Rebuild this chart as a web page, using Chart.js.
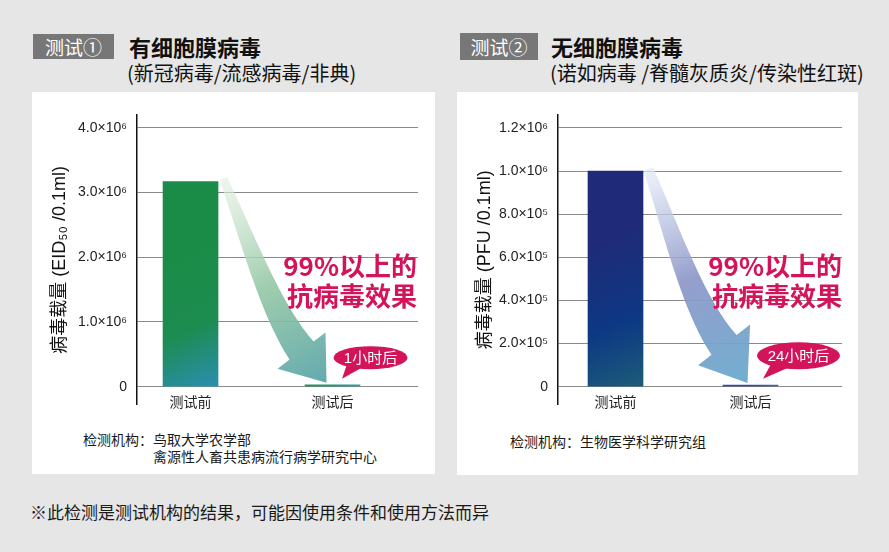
<!DOCTYPE html>
<html>
<head>
<meta charset="utf-8">
<script src="https://cdn.jsdelivr.net/npm/chart.js@4/dist/chart.umd.min.js"></script>
<style>
body { margin: 0; width: 889px; height: 552px; background: #e6e6e6; position: relative; overflow: hidden;
  font-family: 'Noto Sans CJK SC', sans-serif; color: #111; }
.abs { position: absolute; white-space: nowrap; }
.panel { position: absolute; background: #fff; }
.tag { position: absolute; background: #777; color: #fff; font-size: 19px; text-align: center; }
.title { font-size: 22px; font-weight: bold; line-height: 26px; }
.sub { font-size: 20px; line-height: 24px; }
.org { font-size: 14px; line-height: 17px; color: #1a1a1a; }
.big { font-size: 26px; font-weight: bold; line-height: 30px; color: #d4145a; text-align: right; }
canvas { position: absolute; }
</style>
</head>
<body>
<div class="panel" style="left:32px;top:92px;width:403px;height:382px"></div>
<div class="panel" style="left:457px;top:92px;width:401px;height:383px"></div>

<div class="tag" style="left:33px;top:34px;width:81px;height:25px;line-height:25px">测试①</div>
<div class="abs title" style="left:129px;top:33px">有细胞膜病毒</div>
<div class="abs sub" style="left:127px;top:61px">(新冠病毒/流感病毒/非典)</div>

<div class="tag" style="left:460px;top:33px;width:78px;height:27px;line-height:27px">测试②</div>
<div class="abs title" style="left:551px;top:33px">无细胞膜病毒</div>
<div class="abs sub" style="left:550px;top:61px">(诺如病毒 /脊髓灰质炎/传染性红斑)</div>

<canvas id="left" width="403" height="330" style="left:32px;top:93px"></canvas>
<canvas id="right" width="401" height="330" style="left:457px;top:93px"></canvas>

<div class="abs big" style="right:472px;top:250px">99%以上的<br>抗病毒效果</div>
<div class="abs big" style="right:47px;top:250px">99%以上的<br>抗病毒效果</div>

<div class="abs org" style="left:83px;top:431px">检测机构：鸟取大学农学部</div>
<div class="abs org" style="left:153px;top:448px">禽源性人畜共患病流行病学研究中心</div>
<div class="abs org" style="left:510px;top:433px">检测机构：生物医学科学研究组</div>

<div class="abs" style="left:30px;top:500px;font-size:17px;line-height:24px;color:#1a1a1a">※此检测是测试机构的结果，可能因使用条件和使用方法而异</div>

<script>
// values
const categories = ['测试前', '测试后']

const envelopedValues = [3170000, 30000]
const envelopedTicks = [0, 1000000, 2000000, 3000000, 4000000]
const envelopedTickLabels = ['0', '1.0×10⁶', '2.0×10⁶', '3.0×10⁶', '4.0×10⁶']

const nakedValues = [1000000, 8000]
const nakedTicks = [0, 200000, 400000, 600000, 800000, 1000000, 1200000]
const nakedTickLabels = ['0', '2.0×10⁵', '4.0×10⁵', '6.0×10⁵', '8.0×10⁵', '1.0×10⁶', '1.2×10⁶']

const latin = "'Liberation Sans', 'DejaVu Sans', 'Noto Sans CJK SC'"
const cjk = "'Noto Sans CJK SC'"

function cubic(P, t) {
    const u = 1 - t
    const a = u * u * u, b = 3 * u * u * t, c = 3 * u * t * t, d = t * t * t
    return [a * P[0][0] + b * P[1][0] + c * P[2][0] + d * P[3][0],
            a * P[0][1] + b * P[1][1] + c * P[2][1] + d * P[3][1]]
}
function cubicD(P, t) {
    const u = 1 - t
    return [3 * u * u * (P[1][0] - P[0][0]) + 6 * u * t * (P[2][0] - P[1][0]) + 3 * t * t * (P[3][0] - P[2][0]),
            3 * u * u * (P[1][1] - P[0][1]) + 6 * u * t * (P[2][1] - P[1][1]) + 3 * t * t * (P[3][1] - P[2][1])]
}

// big curved arrow from the first bar down to the second one, plus the speech bubble
const arrowPlugin = {
    id: 'dropArrow',
    afterDatasetsDraw(chart, args, o) {
        const xs = chart.scales.x, ys = chart.scales.y, c = chart.ctx
        const pts = chart.data.datasets[0].data
        const sx = xs.getPixelForValue(0) + 27.5, sy = ys.getPixelForValue(pts[0].y)
        const tx = xs.getPixelForValue(1) + o.tipDx, ty = ys.getPixelForValue(pts[1].y) - 2
        const dx = tx - sx, dy = ty - sy
        const P = o.path.map(([fx, fy]) => [sx + fx * dx, sy + fy * dy])

        const left = [], right = []
        const N = 40
        for (let i = 0; i <= N; i++) {
            const t = i / N
            const p = cubic(P, t), d = cubicD(P, t)
            const len = Math.hypot(d[0], d[1])
            const nx = -d[1] / len, ny = d[0] / len
            const w = o.w0 + (o.w1 - o.w0) * t
            left.push([p[0] + nx * w, p[1] + ny * w])
            right.push([p[0] - nx * w, p[1] - ny * w])
        }
        const d = cubicD(P, 1), len = Math.hypot(d[0], d[1])
        const nx = -d[1] / len, ny = d[0] / len
        const end = P[3]

        c.save()
        const g = c.createLinearGradient(P[0][0], P[0][1], tx, ty)
        o.colors.forEach((col, i) => g.addColorStop(i / (o.colors.length - 1), col))
        c.fillStyle = g
        c.beginPath()
        left.forEach(([x, y], i) => i ? c.lineTo(x, y) : c.moveTo(x, y))
        c.lineTo(end[0] + nx * o.head, end[1] + ny * o.head)
        c.lineTo(tx, ty)
        c.lineTo(end[0] - nx * o.head, end[1] - ny * o.head)
        right.reverse().forEach(([x, y]) => c.lineTo(x, y))
        c.closePath()
        c.fill()

        // bubble
        const b = o.bubble
        const bx = xs.getPixelForValue(1) + b.dx, by = ys.getPixelForValue(0) + b.dy
        c.fillStyle = '#d4145a'
        c.beginPath()
        c.ellipse(bx, by, b.rx, b.ry, 0, 0, Math.PI * 2)
        c.fill()
        c.beginPath()
        c.moveTo(bx - b.rx * 0.62, by + b.ry * 0.4)
        c.lineTo(xs.getPixelForValue(1) + b.tailDx, ys.getPixelForValue(0) - 8)
        c.lineTo(bx - b.rx * 0.25, by + b.ry * 0.9)
        c.closePath()
        c.fill()
        c.fillStyle = '#fff'
        c.font = '15px ' + latin
        c.textAlign = 'center'
        c.textBaseline = 'middle'
        c.fillText(b.text, bx, by + 1)
        c.restore()
    }
}

function barFill(ctx, fills) {
    const stops = fills[ctx.dataIndex]
    const chart = ctx.chart
    if (!chart.chartArea || !chart.scales.y) return stops[0]
    const xs = chart.scales.x, ys = chart.scales.y
    const cx = xs.getPixelForValue(ctx.dataIndex)
    const top = ys.getPixelForValue(ctx.raw.y), base = ys.getPixelForValue(0)
    const g = chart.ctx.createLinearGradient(cx - 25, top + (base - top) * 0.35, cx + 30, base)
    g.addColorStop(0, stops[0])
    g.addColorStop(0.55, stops[1])
    g.addColorStop(1, stops[2])
    return g
}

function makeChart(id, cfg) {
    return new Chart(document.getElementById(id), {
        type: 'bar',
        data: {
            datasets: [{
                data: cfg.values.map((v, i) => ({ x: i, y: v })),
                backgroundColor: ctx => barFill(ctx, cfg.fills),
                barThickness: 55,
                borderWidth: 0
            }]
        },
        options: {
            responsive: false,
            animation: false,
            layout: { padding: { top: 22, right: cfg.padRight, bottom: 0, left: 0 } },
            plugins: {
                legend: { display: false },
                tooltip: { enabled: false },
                dropArrow: cfg.arrow
            },
            scales: {
                x: {
                    type: 'linear',
                    min: cfg.xMin,
                    max: cfg.xMax,
                    offset: false,
                    grid: { display: false, drawTicks: false, offset: false },
                    border: { display: false },
                    afterBuildTicks: s => { s.ticks = categories.map((c, i) => ({ value: i })) },
                    afterFit: s => { s.height = 17 },
                    ticks: {
                        callback: v => categories[v],
                        mirror: true,
                        padding: -5,
                        color: '#222',
                        autoSkip: false,
                        maxRotation: 0,
                        font: { family: cjk, size: 14 }
                    }
                },
                y: {
                    min: cfg.yMin,
                    max: cfg.yMax,
                    afterBuildTicks: s => { s.ticks = cfg.ticks.map(v => ({ value: v })) },
                    afterFit: s => { s.width = cfg.axisWidth },
                    grid: { color: '#8a8a8a', lineWidth: 1, drawTicks: false },
                    border: { color: '#111', width: 1.5 },
                    ticks: {
                        callback: (v, i) => cfg.tickLabels[i],
                        padding: 10,
                        color: '#222',
                        autoSkip: false,
                        font: { family: latin, size: 14 }
                    },
                    title: {
                        display: true,
                        text: cfg.yTitle,
                        color: '#111',
                        padding: { top: 17, bottom: 0 },
                        font: { family: latin, size: 18 }
                    }
                }
            }
        },
        plugins: [arrowPlugin]
    })
}

makeChart('left', {
    values: envelopedValues,
    ticks: envelopedTicks,
    tickLabels: envelopedTickLabels,
    yTitle: '病毒载量 (EID₅₀ /0.1ml)',
    yMin: -277000, yMax: 4200000,
    xMin: -0.377, xMax: 1.602,
    axisWidth: 105, padRight: 17,
    fills: [['#1b8c47', '#1d8c50', '#2b8eb2'], ['#2a9060', '#2f9480', '#3a9aa8']],
    arrow: {
        path: [[0.05, -0.015], [0.28, 0.29], [0.486, 0.637], [0.77, 0.84]],
        tipDx: -6, w0: 4, w1: 15, head: 30,
        colors: ['rgba(225,240,225,0.6)', 'rgba(150,200,165,0.9)', 'rgba(90,165,170,0.95)'],
        bubble: { text: '1小时后', dx: 38, dy: -29, rx: 37, ry: 11.5, tailDx: 9.5 }
    }
})

makeChart('right', {
    values: nakedValues,
    ticks: nakedTicks,
    tickLabels: nakedTickLabels,
    yTitle: '病毒载量 (PFU /0.1ml)',
    yMin: -83000, yMax: 1260000,
    xMin: -0.426, xMax: 1.678,
    axisWidth: 101, padRight: 16,
    fills: [['#1f2b78', '#0d3884', '#1c5d78'], ['#3d4d92', '#3d4d92', '#4a6a9a']],
    arrow: {
        path: [[0.05, -0.01], [0.28, 0.29], [0.486, 0.637], [0.776, 0.82]],
        tipDx: -3, w0: 5, w1: 16, head: 33,
        colors: ['rgba(228,236,248,0.7)', 'rgba(140,150,200,0.92)', 'rgba(105,170,205,0.95)'],
        bubble: { text: '24小时后', dx: 48, dy: -31, rx: 41.5, ry: 13.5, tailDx: 12.5 }
    }
})
</script>
</body>
</html>
